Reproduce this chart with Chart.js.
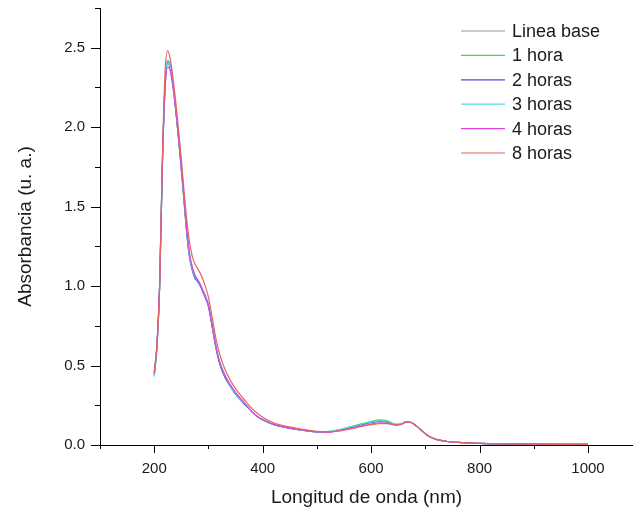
<!DOCTYPE html>
<html>
<head>
<meta charset="utf-8">
<script src="https://cdn.jsdelivr.net/npm/chart.js@4"></script>
<style>
  html, body { margin: 0; padding: 0; background: #fff; }
  #wrap { width: 633px; height: 512px; position: relative; }
</style>
</head>
<body>
<div id="wrap"><canvas id="uvChart"></canvas></div>
<script>
"use strict";

// wavelength (nm) shared by every spectrum
const wavelengths = [
  200, 205, 210, 215, 220, 225, 230, 235, 240, 245, 250, 255, 260, 265, 270, 275,
  280, 285, 290, 295, 300, 305, 310, 315, 320, 330, 340, 350, 360, 370, 380, 390,
  400, 420, 440, 460, 480, 500, 520, 540, 560, 580, 600, 615, 630, 645, 655, 665,
  675, 690, 705, 720, 740, 770, 800, 850, 900, 1000
];

const lineaBase = [
  0.44, 0.62, 1.00, 1.75, 2.25, 2.40, 2.36, 2.25, 2.10, 1.93, 1.75, 1.55, 1.35, 1.20, 1.12, 1.07,
  1.04, 1.01, 0.97, 0.93, 0.88, 0.79, 0.69, 0.60, 0.53, 0.44, 0.38, 0.33, 0.29, 0.25, 0.21, 0.18,
  0.16, 0.13, 0.112, 0.100, 0.090, 0.082, 0.082, 0.092, 0.108, 0.125, 0.142, 0.150, 0.145, 0.128, 0.130, 0.145,
  0.140, 0.100, 0.058, 0.035, 0.022, 0.015, 0.010, 0.007, 0.005, 0.004
];

const hora1 = [
  0.45, 0.63, 1.00, 1.76, 2.26, 2.41, 2.37, 2.26, 2.10, 1.93, 1.75, 1.55, 1.35, 1.20, 1.12, 1.07,
  1.04, 1.01, 0.97, 0.93, 0.88, 0.79, 0.69, 0.60, 0.52, 0.43, 0.37, 0.32, 0.28, 0.245, 0.21, 0.18,
  0.158, 0.13, 0.113, 0.101, 0.091, 0.084, 0.085, 0.096, 0.113, 0.131, 0.148, 0.158, 0.152, 0.132, 0.131, 0.146,
  0.141, 0.100, 0.058, 0.035, 0.022, 0.015, 0.010, 0.007, 0.005, 0.004
];

const horas2 = [
  0.44, 0.62, 1.00, 1.76, 2.27, 2.42, 2.38, 2.26, 2.10, 1.92, 1.73, 1.53, 1.33, 1.18, 1.10, 1.05,
  1.03, 1.00, 0.96, 0.92, 0.87, 0.78, 0.68, 0.59, 0.52, 0.43, 0.37, 0.32, 0.28, 0.245, 0.21, 0.18,
  0.158, 0.13, 0.112, 0.100, 0.090, 0.083, 0.083, 0.094, 0.110, 0.127, 0.142, 0.148, 0.144, 0.128, 0.130, 0.145,
  0.140, 0.100, 0.058, 0.035, 0.022, 0.015, 0.010, 0.007, 0.005, 0.004
];

const horas3 = [
  0.43, 0.61, 1.00, 1.75, 2.26, 2.42, 2.37, 2.25, 2.10, 1.93, 1.74, 1.54, 1.34, 1.19, 1.11, 1.06,
  1.04, 1.01, 0.97, 0.93, 0.88, 0.79, 0.69, 0.60, 0.53, 0.44, 0.37, 0.32, 0.28, 0.25, 0.21, 0.18,
  0.158, 0.13, 0.112, 0.100, 0.090, 0.083, 0.084, 0.095, 0.112, 0.129, 0.145, 0.152, 0.148, 0.130, 0.130, 0.145,
  0.140, 0.100, 0.058, 0.035, 0.022, 0.015, 0.010, 0.007, 0.005, 0.004
];

const horas4 = [
  0.45, 0.63, 1.02, 1.77, 2.24, 2.38, 2.35, 2.24, 2.10, 1.93, 1.75, 1.55, 1.35, 1.21, 1.12, 1.07,
  1.04, 1.01, 0.97, 0.93, 0.88, 0.79, 0.69, 0.60, 0.53, 0.44, 0.38, 0.33, 0.29, 0.25, 0.21, 0.18,
  0.16, 0.13, 0.112, 0.100, 0.090, 0.082, 0.081, 0.089, 0.103, 0.118, 0.132, 0.140, 0.138, 0.126, 0.129, 0.145,
  0.140, 0.100, 0.058, 0.035, 0.022, 0.015, 0.010, 0.007, 0.005, 0.004
];

const horas8 = [
  0.46, 0.62, 1.00, 1.80, 2.35, 2.48, 2.42, 2.30, 2.15, 1.98, 1.80, 1.60, 1.42, 1.28, 1.19, 1.14,
  1.11, 1.08, 1.04, 0.99, 0.93, 0.84, 0.74, 0.65, 0.58, 0.48, 0.41, 0.355, 0.31, 0.27, 0.23, 0.20,
  0.175, 0.14, 0.12, 0.107, 0.095, 0.086, 0.083, 0.088, 0.100, 0.115, 0.128, 0.135, 0.135, 0.125, 0.130, 0.145,
  0.140, 0.100, 0.058, 0.035, 0.022, 0.015, 0.010, 0.007, 0.005, 0.004
];

const seriesNames = ["Linea base", "1 hora", "2 horas", "3 horas", "4 horas", "8 horas"];
const seriesValues = [lineaBase, hora1, horas2, horas3, horas4, horas8];
const seriesColors = ["#9a9a9a", "#3fdc3f", "#5548d0", "#4fdde6", "#e044e0", "#e46464"];

const xTickValues = [200, 400, 600, 800, 1000];
const yTickValues = [0, 0.5, 1.0, 1.5, 2.0, 2.5];

const FONT = "'Liberation Sans', Arial, sans-serif";
const TEXT = "#1a1a1a";

// Origin style ticks: outward, major + minor
const tickMarks = {
  id: "tickMarks",
  afterDraw(chart) {
    const { ctx, scales: { x, y } } = chart;
    ctx.save();
    ctx.strokeStyle = "#000";
    ctx.lineWidth = 1;
    ctx.beginPath();
    for (let v = 100; v <= x.max; v += 100) {
      const px = Math.round(x.getPixelForValue(v)) + 0.5;
      const len = v % 200 === 0 ? 8 : 4;
      ctx.moveTo(px, y.bottom);
      ctx.lineTo(px, y.bottom + len);
    }
    for (let i = 0; i <= 11; i++) {
      const v = i * 0.25;
      const py = Math.round(y.getPixelForValue(v)) + 0.5;
      const len = i % 2 === 0 ? 9 : 5;
      ctx.moveTo(x.left, py);
      ctx.lineTo(x.left - len, py);
    }
    ctx.stroke();
    ctx.restore();
  }
};

const legendBox = {
  id: "legendBox",
  afterDraw(chart) {
    const { ctx } = chart;
    ctx.save();
    ctx.font = "18px " + FONT;
    ctx.textBaseline = "middle";
    ctx.fillStyle = TEXT;
    chart.data.datasets.forEach((ds, i) => {
      const yy = 31 + i * 24.4;
      ctx.strokeStyle = ds.borderColor;
      ctx.lineWidth = 1.2;
      ctx.beginPath();
      ctx.moveTo(461, yy);
      ctx.lineTo(505, yy);
      ctx.stroke();
      ctx.fillText(ds.label, 512, yy + 1);
    });
    ctx.restore();
  }
};

const datasets = seriesValues.map((values, i) => ({
  label: seriesNames[i],
  data: wavelengths.map((w, j) => ({ x: w, y: values[j] })),
  borderColor: seriesColors[i],
  borderWidth: 1.2,
  pointRadius: 0,
  cubicInterpolationMode: "monotone",
  fill: false,
  order: seriesValues.length - i
}));

new Chart(document.getElementById("uvChart"), {
  type: "line",
  data: { datasets },
  plugins: [tickMarks, legendBox],
  options: {
    responsive: true,
    maintainAspectRatio: false,
    animation: false,
    layout: { padding: { top: 8, right: 0, bottom: 0, left: 0 } },
    plugins: {
      legend: { display: false },
      tooltip: { enabled: false }
    },
    scales: {
      x: {
        type: "linear",
        min: 100,
        max: 1083,
        grid: { display: false, drawTicks: false },
        border: { display: true, color: "#000", width: 1 },
        afterBuildTicks: scale => { scale.ticks = xTickValues.map(v => ({ value: v })); },
        afterFit: scale => {
          scale.height = 67;
          scale.paddingLeft = 0;
          scale.paddingRight = 0;
        },
        ticks: {
          padding: 15,
          maxRotation: 0,
          color: TEXT,
          font: { family: FONT, size: 15 },
          callback: v => String(v)
        },
        title: {
          display: true,
          text: "Longitud de onda (nm)",
          color: TEXT,
          font: { family: FONT, size: 19 },
          padding: { top: 0, bottom: 3 }
        }
      },
      y: {
        type: "linear",
        min: 0,
        max: 2.75,
        grid: { display: false, drawTicks: false },
        border: { display: true, color: "#000", width: 1 },
        afterBuildTicks: scale => { scale.ticks = yTickValues.map(v => ({ value: v })); },
        afterFit: scale => {
          scale.width = 100;
          scale.paddingTop = 0;
          scale.paddingBottom = 0;
        },
        ticks: {
          padding: 15,
          color: TEXT,
          font: { family: FONT, size: 15 },
          callback: v => Number(v).toFixed(1)
        },
        title: {
          display: true,
          text: "Absorbancia (u. a.)",
          color: TEXT,
          font: { family: FONT, size: 19 },
          padding: { top: 14, bottom: 0 }
        }
      }
    }
  }
});
</script>
</body>
</html>
